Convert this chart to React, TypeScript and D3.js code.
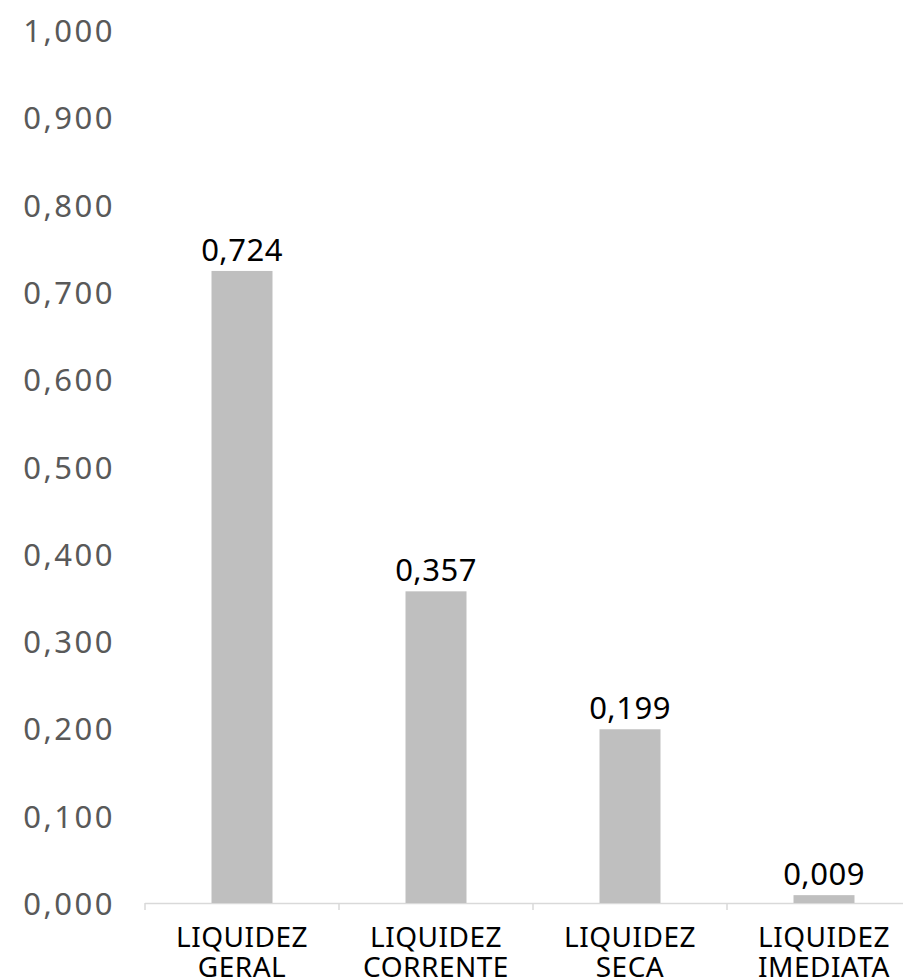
import React from "react";
import * as d3 from "d3";

const categories = [["LIQUIDEZ", "GERAL"], ["LIQUIDEZ", "CORRENTE"], ["LIQUIDEZ", "SECA"], ["LIQUIDEZ", "IMEDIATA"]];
const values = [0.724, 0.357, 0.199, 0.009];
const yTicks = [0, 0.1, 0.2, 0.3, 0.4, 0.5, 0.6, 0.7, 0.8, 0.9, 1.0];

const W = 903, H = 980;
const font = "'Noto Sans', sans-serif";
const fmt = (v: number) => v.toFixed(3).replace(".", ",");

export default function App() {
  const x = d3.scaleBand<number>().domain(d3.range(categories.length)).range([145, 921]).paddingInner(0).paddingOuter(0);
  const y = d3.scaleLinear().domain([0, 1]).range([903, 30]);
  const bw = 61;
  return (
    <svg width={W} height={H} style={{ position: "absolute", left: 0, top: 0 }}>
      <rect width={W} height={H} fill="#fff" />
      {yTicks.map((t) => (
        <text key={t} x={115} y={y(t)} textAnchor="end" dominantBaseline="central" fontFamily={font} fontSize={31} letterSpacing={2.5} fill="#595959">
          {fmt(t)}
        </text>
      ))}
      <line x1={145} x2={921} y1={903.5} y2={903.5} stroke="#d9d9d9" strokeWidth={1.5} />
      {d3.range(categories.length + 1).map((i) => {
        const xx = i < categories.length ? x(i)! : x(categories.length - 1)! + x.bandwidth();
        return <line key={i} x1={xx} x2={xx} y1={903} y2={910} stroke="#d9d9d9" strokeWidth={1.5} />;
      })}
      {values.map((v, i) => {
        const cx = x(i)! + x.bandwidth() / 2;
        return (
          <g key={i}>
            <rect x={cx - bw / 2} y={y(v)} width={bw} height={y(0) - y(v)} fill="#bfbfbf" />
            <text x={cx} y={y(v) - 10} textAnchor="middle" fontFamily={font} fontSize={31} letterSpacing={0.5} fill="#000">
              {fmt(v)}
            </text>
            {categories[i].map((line, j) => (
              <text key={j} x={cx} y={947 + j * 30} textAnchor="middle" fontFamily={font} fontSize={28} letterSpacing={0.5} fill="#000">
                {line}
              </text>
            ))}
          </g>
        );
      })}
    </svg>
  );
}
